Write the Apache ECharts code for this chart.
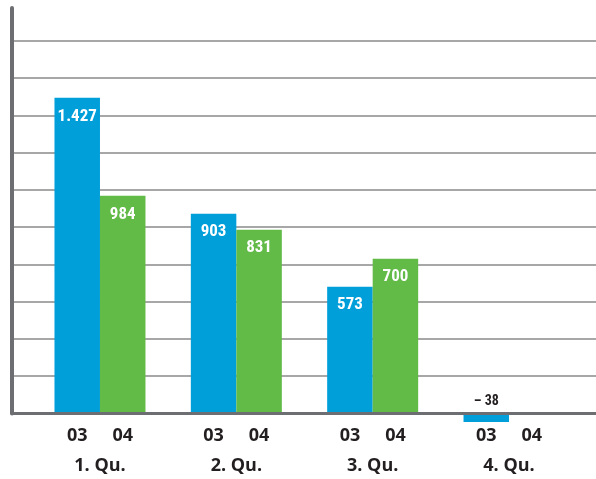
<!DOCTYPE html>
<html>
<head>
<meta charset="utf-8">
<script src="https://cdn.jsdelivr.net/npm/echarts@6/dist/echarts.min.js"></script>
<style>
  html, body { margin: 0; padding: 0; background: #fff; }
  #chart { width: 596px; height: 479px; }
</style>
</head>
<body>
<div id="chart"></div>
<script>
// Quartale, Jahre 03 / 04
const quarters = ['1. Qu.', '2. Qu.', '3. Qu.', '4. Qu.'];
const years = ['03', '04'];
const values03 = [1427, 903, 573, -38];
const values04 = [984, 831, 700, null];

const yMax = 1833;
const yStep = 168.5;

const blue = '#009fda';
const green = '#62ba47';
const axisGrey = '#6d6e71';
const condensed = "'Liberation Sans Narrow', 'Roboto Condensed', 'DejaVu Sans Condensed', sans-serif";

// 1427 -> "1.427", -38 -> "– 38"
function fmt(v) {
  const s = String(Math.abs(v)).replace(/\B(?=(\d{3})+(?!\d))/g, '.');
  return v < 0 ? '\u2013 ' + s : s;
}

function barData(values) {
  return values.map(v => {
    if (v === null) return null;
    if (v < 0) {
      return {
        value: v,
        label: { position: 'top', distance: 5, color: '#231f20', fontSize: 14 }
      };
    }
    return v;
  });
}

const chart = echarts.init(document.getElementById('chart'));

const option = {
  animation: false,
  grid: [
    // frame: axis lines + gridlines
    { left: 12, right: 0, top: 8, bottom: 65.5 },
    // bars
    { left: 31.8, right: 18.8, top: 8, bottom: 65.5 }
  ],
  xAxis: [
    {
      gridIndex: 0,
      type: 'category',
      data: quarters,
      z: 5,
      axisLine: { lineStyle: { color: axisGrey, width: 3 } },
      axisTick: { show: false },
      axisLabel: { show: false }
    },
    {
      gridIndex: 1,
      type: 'category',
      data: quarters,
      axisLine: { show: false },
      axisTick: { show: false },
      axisLabel: {
        margin: 7.5,
        formatter: q => years.map(y => '{y|' + y + '}').join('') + '\n{q|' + q + '}',
        rich: {
          y: {
            width: 45.5, align: 'center', lineHeight: 30,
            fontFamily: "'Open Sans', sans-serif", fontWeight: 'bold', fontSize: 18, color: '#231f20'
          },
          q: {
            align: 'center', lineHeight: 30,
            fontFamily: "'Open Sans', sans-serif", fontWeight: 'bold', fontSize: 18, color: '#231f20'
          }
        }
      }
    }
  ],
  yAxis: [
    {
      gridIndex: 0,
      type: 'value',
      min: 0,
      max: yMax,
      interval: yStep,
      axisLine: { show: true, lineStyle: { color: axisGrey, width: 4 } },
      axisTick: { show: false },
      axisLabel: { show: false },
      splitLine: {
        show: true,
        showMinLine: false,
        showMaxLine: false,
        lineStyle: { color: '#8a8a8a', width: 1.5 }
      }
    },
    {
      gridIndex: 1,
      type: 'value',
      min: 0,
      max: yMax,
      show: false,
      splitLine: { show: false }
    }
  ],
  series: [
    {
      name: years[0],
      type: 'bar',
      xAxisIndex: 1,
      yAxisIndex: 1,
      clip: false,
      barWidth: 45.5,
      barGap: '0%',
      itemStyle: { color: blue },
      label: {
        show: true,
        position: 'insideTop',
        distance: 10,
        formatter: p => fmt(p.value),
        color: '#fff',
        fontFamily: condensed,
        fontWeight: 'bold',
        fontSize: 17
      },
      data: barData(values03)
    },
    {
      name: years[1],
      type: 'bar',
      xAxisIndex: 1,
      yAxisIndex: 1,
      clip: false,
      barWidth: 45.5,
      barGap: '0%',
      itemStyle: { color: green },
      label: {
        show: true,
        position: 'insideTop',
        distance: 10,
        formatter: p => fmt(p.value),
        color: '#fff',
        fontFamily: condensed,
        fontWeight: 'bold',
        fontSize: 17
      },
      data: barData(values04)
    }
  ]
};

chart.setOption(option);
</script>
</body>
</html>
